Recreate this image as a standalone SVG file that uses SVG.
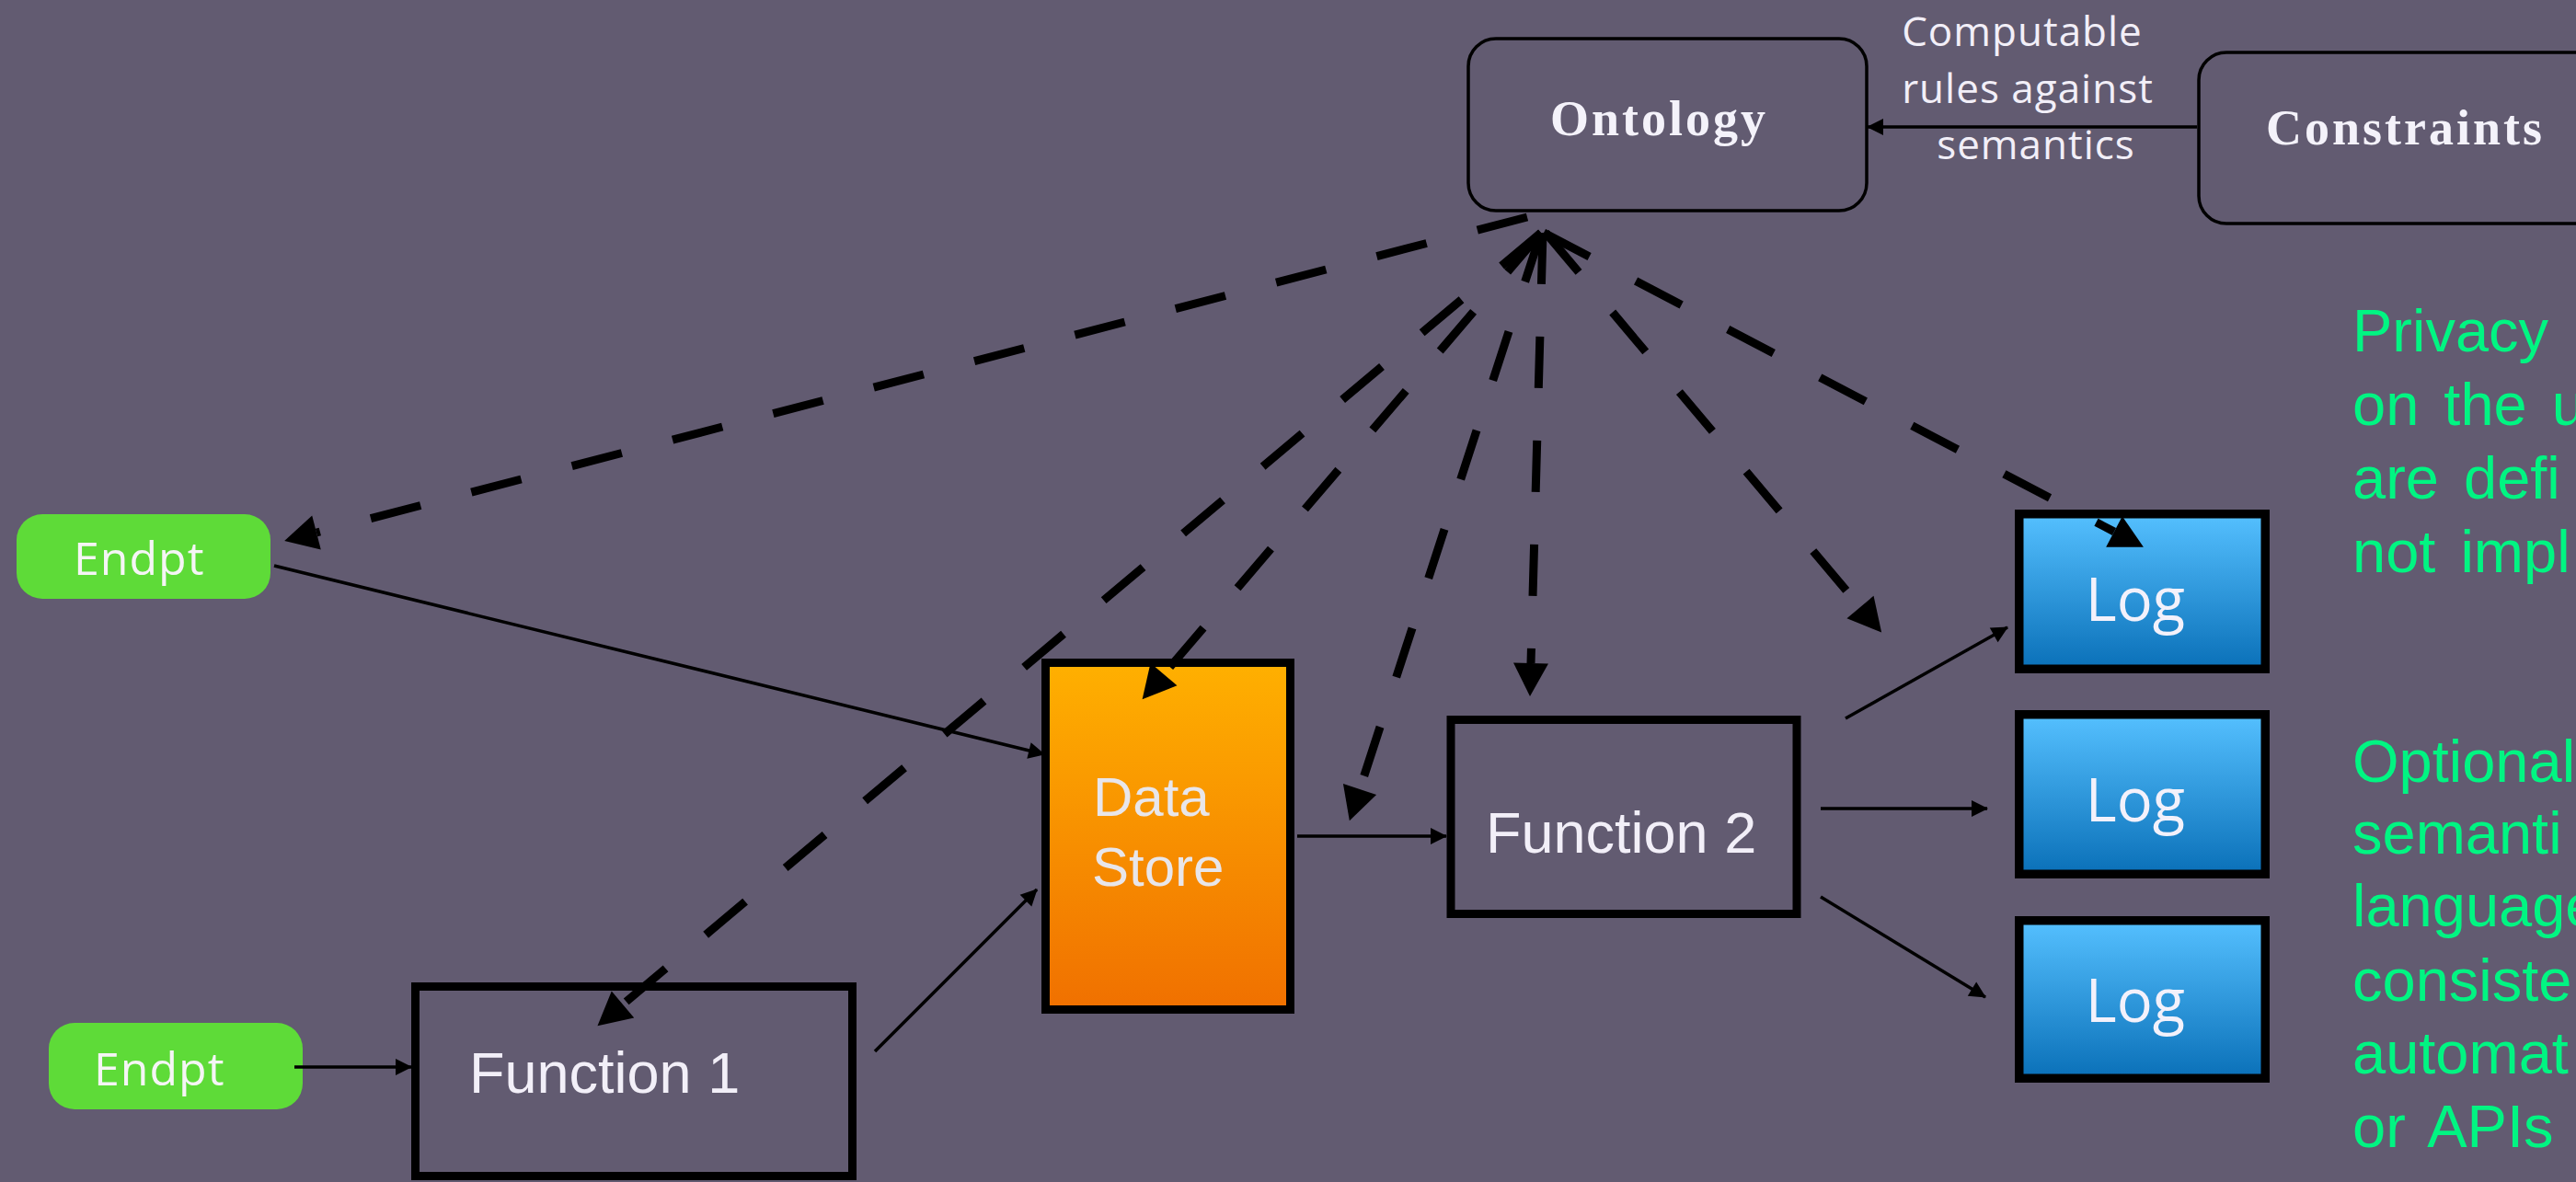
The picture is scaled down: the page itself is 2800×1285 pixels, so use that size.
<svg xmlns="http://www.w3.org/2000/svg" width="2800" height="1285" viewBox="0 0 2800 1285">
  <defs>
    <linearGradient id="gOrange" x1="0" y1="0" x2="0" y2="1">
      <stop offset="0" stop-color="#ffb000"/>
      <stop offset="1" stop-color="#f07000"/>
    </linearGradient>
    <linearGradient id="gBlue" x1="0" y1="0" x2="0" y2="1">
      <stop offset="0" stop-color="#55c0ff"/>
      <stop offset="1" stop-color="#0a70b8"/>
    </linearGradient>
    <marker id="bigArrow" markerUnits="userSpaceOnUse" markerWidth="36" markerHeight="38" refX="0" refY="19" orient="auto" overflow="visible">
      <path d="M0,0 L36,19 L0,38 Z" fill="#000"/>
    </marker>
    <marker id="smallArrow" markerUnits="userSpaceOnUse" markerWidth="18" markerHeight="18" refX="17" refY="9" orient="auto" overflow="visible">
      <path d="M0,0 L18,9 L0,18 Z" fill="#000"/>
    </marker>
    <style>
      .bg { fill: #625b71; }
      .rbox { fill: none; stroke: #000; stroke-width: 3.5; }
      .box { fill: none; stroke: #000; stroke-width: 9; }
      .endpt { fill: #5edb38; }
      .title { font-family: "Liberation Serif", serif; font-size: 54px; font-weight: bold; letter-spacing: 3px; fill: #f4f2fa; }
      .lbl { font-family: "Liberation Sans", Arial, sans-serif; fill: #f2eff8; }
      .ds { font-family: "Liberation Sans", Arial, sans-serif; font-size: 60px; fill: #e8e6ea; }
      .ep { font-family: "Open Sans", "Liberation Sans", sans-serif; font-size: 50px; fill: #f5f5f5; letter-spacing: 1px; }
      .logt { font-family: "Open Sans", "Liberation Sans", sans-serif; font-size: 65px; fill: #f3f1fb; }
      .note { font-family: "Liberation Sans", Arial, sans-serif; font-size: 65px; fill: #00f582; word-spacing: 9px; }
      .small { font-family: "Open Sans", "Liberation Sans", sans-serif; font-size: 44px; letter-spacing: 1px; fill: #f2eff8; }
      .dash { fill: none; stroke: #000; stroke-width: 9; stroke-dasharray: 56 57; marker-end: url(#bigArrow); }
      .thin { fill: none; stroke: #000; stroke-width: 3.5; marker-end: url(#smallArrow); }
    </style>
  </defs>

  <rect class="bg" x="0" y="0" width="2800" height="1285"/>

  <g id="ontology">
    <rect class="rbox" x="1596" y="42" width="433" height="187" rx="30"/>
    <text class="title" x="1685" y="147">Ontology</text>
  </g>

  <g id="constraints">
    <rect class="rbox" x="2390" y="57" width="520" height="186" rx="30"/>
    <text class="title" x="2463" y="157">Constraints</text>
  </g>

  <g id="endpt1">
    <rect class="endpt" x="18" y="559" width="276" height="92" rx="28"/>
    <text class="ep" x="80" y="625">Endpt</text>
  </g>

  <g id="endpt2">
    <rect class="endpt" x="53" y="1112" width="276" height="94" rx="28"/>
    <text class="ep" x="102" y="1180">Endpt</text>
  </g>

  <g id="function1">
    <rect class="box" x="451.5" y="1072.5" width="475" height="206"/>
    <text class="lbl" x="510" y="1188" font-size="63">Function 1</text>
  </g>

  <g id="datastore">
    <rect x="1136.5" y="720.5" width="266" height="377" fill="url(#gOrange)" stroke="#000" stroke-width="9"/>
    <text class="ds" x="1188" y="887">Data</text>
    <text class="ds" x="1187" y="963">Store</text>
  </g>

  <g id="function2">
    <rect class="box" x="1577" y="782.5" width="376" height="211"/>
    <text class="lbl" x="1615" y="927" font-size="63">Function 2</text>
  </g>

  <g id="log1">
    <rect x="2194.75" y="558.75" width="267.5" height="168.5" fill="url(#gBlue)" stroke="#000" stroke-width="9.5"/>
    <text class="logt" x="2321" y="675" text-anchor="middle">Log</text>
  </g>
  <g id="log2">
    <rect x="2194.75" y="776.75" width="267.5" height="173.5" fill="url(#gBlue)" stroke="#000" stroke-width="9.5"/>
    <text class="logt" x="2321" y="893" text-anchor="middle">Log</text>
  </g>
  <g id="log3">
    <rect x="2194.75" y="1000.75" width="267.5" height="171.5" fill="url(#gBlue)" stroke="#000" stroke-width="9.5"/>
    <text class="logt" x="2321" y="1111" text-anchor="middle">Log</text>
  </g>

  <g id="connectors">
    <line class="thin" x1="2388" y1="138" x2="2030" y2="138"/>
    <line class="thin" x1="298" y1="615" x2="1135" y2="820"/>
    <line class="thin" x1="320" y1="1160" x2="447" y2="1160"/>
    <line class="thin" x1="951" y1="1143" x2="1127" y2="967"/>
    <line class="thin" x1="1410" y1="909" x2="1572" y2="909"/>
    <line class="thin" x1="2006" y1="781" x2="2182" y2="682"/>
    <line class="thin" x1="1979" y1="879" x2="2160" y2="879"/>
    <line class="thin" x1="1979" y1="975" x2="2158" y2="1084"/>

    <path class="dash" d="M1660,236 L344,579"/>
    <path class="dash" d="M1675,253 L677,1092"/>
    <path class="dash" d="M1675,253 L1265,733"/>
    <path class="dash" d="M1675,253 L1478,858"/>
    <path class="dash" d="M1677,253 L1664,721"/>
    <path class="dash" d="M1680,253 L2022,660"/>
    <path class="dash" d="M1678,253 L2298,578"/>
  </g>

  <g id="edge-label">
    <text class="small" x="2198" y="50" text-anchor="middle">Computable</text>
    <text class="small" x="2204" y="112" text-anchor="middle">rules against</text>
    <text class="small" x="2213" y="173" text-anchor="middle">semantics</text>
  </g>

  <g id="notes">
    <text class="note" x="2557" y="382">Privacy</text>
    <text class="note" x="2557" y="462">on the u</text>
    <text class="note" x="2557" y="542">are defi</text>
    <text class="note" x="2557" y="622">not impl</text>
    <text class="note" x="2557" y="850">Optional</text>
    <text class="note" x="2557" y="928">semanti</text>
    <text class="note" x="2557" y="1007">language</text>
    <text class="note" x="2557" y="1088">consiste</text>
    <text class="note" x="2557" y="1167">automat</text>
    <text class="note" x="2557" y="1247">or APIs c</text>
  </g>
</svg>
